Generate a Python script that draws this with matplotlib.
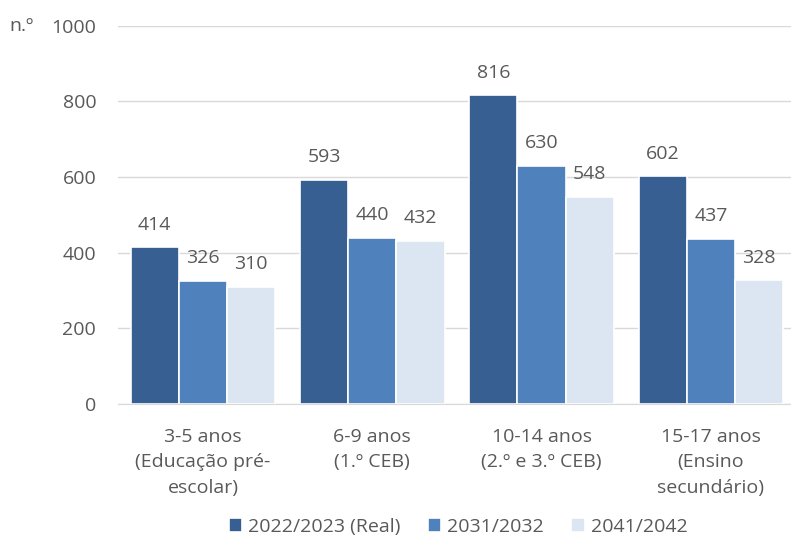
import matplotlib
matplotlib.use("Agg")
import matplotlib.pyplot as plt
import numpy as np

plt.rcParams['font.family'] = ['Open Sans', 'DejaVu Sans']

categories = ["3-5 anos\n(Educação pré-\nescolar)", "6-9 anos\n(1.º CEB)",
              "10-14 anos\n(2.º e 3.º CEB)", "15-17 anos\n(Ensino\nsecundário)"]
series_names = ["2022/2023 (Real)", "2031/2032", "2041/2042"]
v2022 = [414, 593, 816, 602]
v2031 = [326, 440, 630, 437]
v2041 = [310, 432, 548, 328]
yticks = [0, 200, 400, 600, 800, 1000]

colors = ["#375F92", "#4F81BD", "#DCE6F2"]
text_col = "#595959"
fs = 14

fig = plt.figure(figsize=(7.91, 5.41), dpi=100)
ax = fig.add_axes([0.1497, 0.2532, 0.856, 0.699])

x = np.arange(len(categories))
w = 0.285
for i, (vals, name, c) in enumerate(zip([v2022, v2031, v2041], series_names, colors)):
    pos = x + (i - 1) * w
    ax.bar(pos, vals, width=w, color=c, edgecolor="white", linewidth=1.2, label=name, zorder=3)
    for p, v in zip(pos, vals):
        ax.annotate(str(v), (p, v), xytext=(0, 12.5), textcoords="offset points",
                    ha="center", va="baseline", fontsize=fs, color=text_col)

ax.set_xlim(-0.5, 3.5)
ax.set_ylim(0, 1000)
ax.set_yticks(yticks)
ax.set_yticklabels([str(t) for t in yticks], fontsize=fs, color=text_col)
ax.set_xticks(x)
ax.set_xticklabels(categories, fontsize=fs, color=text_col, linespacing=1.55)
ax.tick_params(axis="y", length=0, pad=16)
ax.tick_params(axis="x", length=0, pad=17)
ax.grid(axis="y", color="#D9D9D9", linewidth=1, zorder=0)
for s in ["top", "right", "left"]:
    ax.spines[s].set_visible(False)
ax.spines["bottom"].set_color("#D9D9D9")
ax.spines["bottom"].set_zorder(4)

fig.text(0.012, 0.952, "n.º", fontsize=fs, color=text_col, va="center", ha="left")

fig.legend(loc="center", bbox_to_anchor=(0.579, 0.026), ncol=3, frameon=False,
           fontsize=fs, handlelength=0.7, handleheight=0.7, handletextpad=0.3,
           columnspacing=1.4, labelcolor=text_col)

fig.savefig("out.png", dpi=100)
